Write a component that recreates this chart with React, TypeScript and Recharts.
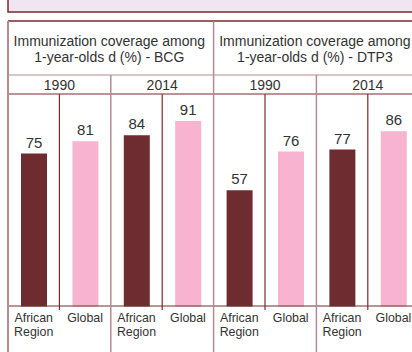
import { BarChart, Bar, XAxis, YAxis, Cell, LabelList } from "recharts";

// coverage values, in order: 1990 African Region, 1990 Global, 2014 African Region, 2014 Global
const bcgValues = [75, 81, 84, 91];
const dtp3Values = [57, 76, 77, 86];

const vaccines = ["BCG", "DTP3"];
const years = ["1990", "2014"];
const regions = ["African Region", "Global"];
const headerLine1 = "Immunization coverage among";
const headerLine2 = "1-year-olds d (%) - ";

const series = [bcgValues, dtp3Values];

const rows = vaccines.flatMap((vaccine, v) =>
  years.flatMap((year, y) =>
    regions.map((region, r) => ({
      key: `${vaccine}-${year}-${r}`,
      region,
      value: series[v][y * 2 + r],
    }))
  )
);

const MAROON = "#6e2c30";
const PINK = "#f7b3cf";
const LINE_DARK = "#7a2a2f";
const LINE_LIGHT = "#b48c91";
const TEXT = "#333333";
const FONT = "Arial, 'Liberation Sans', sans-serif";

// table geometry
const LEFT = 8;
const COL = 51.4;
const PLOT_TOP = 102.6;
const BASE = 306.6;
const W = 412;
const H = 352;
const AXIS_H = 30;

const colX = (i: number) => LEFT + i * COL;

function RegionTick(props: any) {
  const { x, y, payload } = props;
  const words = rows[payload.index].region.split(" ");
  return (
    <text x={x} y={y + 15.6} textAnchor="middle" fill={TEXT} fontSize={12.4} fontFamily={FONT}>
      {words.map((w: string, i: number) => (
        <tspan key={i} x={x} dy={i === 0 ? 0 : 13.5}>
          {w}
        </tspan>
      ))}
    </text>
  );
}

function TableFrame() {
  const groupLines = [0, 2, 4, 6];
  const pairLines = [1, 3, 5, 7];
  return (
    <svg
      width={W}
      height={H}
      style={{ position: "absolute", left: 0, top: 0, pointerEvents: "none" }}
    >
      <rect x={LEFT} y={-4} width={430} height={16} fill="#efe6f2" stroke={LINE_DARK} strokeWidth={1.5} />

      <line x1={LEFT} x2={W} y1={21} y2={21} stroke={LINE_DARK} strokeWidth={1.5} />
      <line x1={LEFT} x2={W} y1={75} y2={75} stroke={LINE_LIGHT} strokeWidth={1.2} />
      <line x1={LEFT} x2={W} y1={94} y2={94} stroke={LINE_DARK} strokeWidth={1.2} />
      <line x1={LEFT} x2={W} y1={306} y2={306} stroke={LINE_DARK} strokeWidth={1.2} />

      {groupLines.map((i) => (
        <line
          key={i}
          x1={colX(i)}
          x2={colX(i)}
          y1={i % 4 === 0 ? 21 : 75}
          y2={H}
          stroke={LINE_LIGHT}
          strokeWidth={i === 0 ? 2 : 1.5}
        />
      ))}
      {pairLines.map((i) => (
        <line key={i} x1={colX(i)} x2={colX(i)} y1={94} y2={310} stroke={LINE_DARK} strokeWidth={1.2} />
      ))}

      {vaccines.map((vaccine, v) => {
        const cx = (colX(v * 4) + colX(v * 4 + 4)) / 2 - 1.5;
        return (
          <text key={vaccine} x={cx} textAnchor="middle" fill={TEXT} fontSize={14} fontFamily={FONT}>
            <tspan x={cx} y={46}>{headerLine1}</tspan>
            <tspan x={cx} y={61.5}>{headerLine2 + vaccine}</tspan>
          </text>
        );
      })}

      {vaccines.flatMap((vaccine, v) =>
        years.map((year, y) => {
          const i = v * 4 + y * 2;
          return (
            <text
              key={`${vaccine}-${year}`}
              x={(colX(i) + colX(i + 2)) / 2}
              y={90}
              textAnchor="middle"
              fill={TEXT}
              fontSize={14}
              fontFamily={FONT}
            >
              {year}
            </text>
          );
        })
      )}
    </svg>
  );
}

export default function App() {
  const chartW = LEFT + COL * 8;
  return (
    <div
      style={{
        position: "absolute",
        left: 0,
        top: 0,
        width: W,
        height: H,
        overflow: "hidden",
        background: "#ffffff",
      }}
    >
      <div style={{ position: "absolute", left: 0, top: 0 }}>
        <BarChart
          width={chartW}
          height={H}
          data={rows}
          margin={{ top: PLOT_TOP, right: 0, bottom: H - BASE - AXIS_H, left: LEFT }}
        >
          <XAxis
            dataKey="key"
            height={AXIS_H}
            axisLine={false}
            tickLine={false}
            tickSize={0}
            tickMargin={0}
            interval={0}
            tick={<RegionTick />}
          />
          <YAxis hide domain={[0, 100]} />
          <Bar dataKey="value" barSize={26} isAnimationActive={false}>
            {rows.map((row) => (
              <Cell key={row.key} fill={row.region === "Global" ? PINK : MAROON} />
            ))}
            <LabelList dataKey="value" position="top" offset={6} fill={TEXT} fontSize={15} fontFamily={FONT} />
          </Bar>
        </BarChart>
      </div>
      <TableFrame />
    </div>
  );
}
